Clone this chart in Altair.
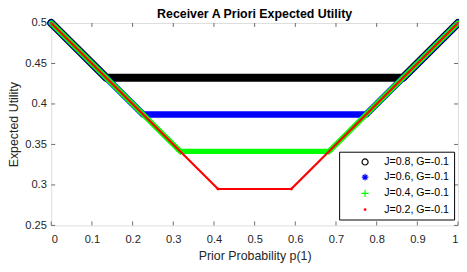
import altair as alt
import pandas as pd

# ---- data ----
series_names = ["J=0.8, G=-0.1", "J=0.6, G=-0.1", "J=0.4, G=-0.1", "J=0.2, G=-0.1"]

x_j08 = [0.0, 0.135, 0.865, 1.0]
y_j08 = [0.5, 0.4325, 0.4325, 0.5]
x_j06 = [0.0, 0.226, 0.774, 1.0]
y_j06 = [0.5, 0.387, 0.387, 0.5]
x_j04 = [0.0, 0.317, 0.683, 1.0]
y_j04 = [0.5, 0.3415, 0.3415, 0.5]
x_j02 = [0.0, 0.41, 0.59, 1.0]
y_j02 = [0.5, 0.295, 0.295, 0.5]

x_ticks = [0, 0.1, 0.2, 0.3, 0.4, 0.5, 0.6, 0.7, 0.8, 0.9, 1]
y_ticks = [0.25, 0.3, 0.35, 0.4, 0.45, 0.5]

# ---- styles ----
colors = ["#000000", "#0000ff", "#00ff00", "#ff0000"]
line_widths = [8.2, 6.8, 5.4, 2.2]
asterisk = "M0,-1L0,1M-1,0L1,0M-0.7,-0.7L0.7,0.7M-0.7,0.7L0.7,-0.7"
plus = "M0,-1L0,1M-1,0L1,0"
shapes = ["circle", asterisk, plus, "circle"]
sizes = [38, 45, 55, 3]

FONT = "Liberation Sans"
W, H = 414, 206
AXIS_COL = "#6b6b6b"
TXT_COL = "#262626"

rows = []
for name, xs_, ys_ in zip(series_names,
                          [x_j08, x_j06, x_j04, x_j02],
                          [y_j08, y_j06, y_j04, y_j02]):
    for a, b in zip(xs_, ys_):
        rows.append({"p": a, "u": b, "series": name})
df = pd.DataFrame(rows)

xscale = alt.Scale(domain=[0, 1], nice=False, zero=False)
yscale = alt.Scale(domain=[0.25, 0.5], nice=False, zero=False)

xaxis = alt.Axis(values=x_ticks, format="~g", title="Prior Probability p(1)",
                 ticks=False, tickSize=0, domain=False, grid=False,
                 labelPadding=8, labelFontSize=11.3, labelColor=TXT_COL, labelFont=FONT,
                 titleFontSize=12.6, titleFontWeight="normal", titleColor=TXT_COL, titleFont=FONT,
                 titleBaseline="alphabetic", titleY=35, titleX=W / 2)
yaxis = alt.Axis(values=y_ticks, format=".2~f", title="Expected Utility",
                 ticks=False, tickSize=0, domain=False, grid=False,
                 labelPadding=5, labelFontSize=11.3, labelColor=TXT_COL, labelFont=FONT,
                 titleFontSize=12.6, titleFontWeight="normal", titleColor=TXT_COL, titleFont=FONT,
                 titleBaseline="alphabetic", titleAngle=-90, titleX=-34.5, titleY=H / 2)

X = alt.X("p:Q", scale=xscale, axis=xaxis)
Y = alt.Y("u:Q", scale=yscale, axis=yaxis)

legend = alt.Legend(title=None, orient="none", legendX=293, legendY=131,
                    fillColor="white", strokeColor="black", padding=5,
                    cornerRadius=0, rowPadding=3.5, symbolOffset=16, labelOffset=14,
                    labelFontSize=10.8, labelFont=FONT, labelColor="black",
                    symbolStrokeWidth=1.2)

points = alt.Chart(df).mark_point(filled=False, strokeWidth=1.2, opacity=1).encode(
    x=X, y=Y,
    color=alt.Color("series:N", sort=series_names,
                    scale=alt.Scale(domain=series_names, range=colors), legend=legend),
    shape=alt.Shape("series:N", sort=series_names,
                    scale=alt.Scale(domain=series_names, range=shapes), legend=legend),
    size=alt.Size("series:N", sort=series_names,
                  scale=alt.Scale(type="ordinal", domain=series_names, range=sizes), legend=legend),
)

lines = []
for name, col, sw in zip(series_names, colors, line_widths):
    lines.append(
        alt.Chart(df).transform_filter(alt.datum.series == name)
        .mark_line(color=col, strokeWidth=sw, strokeCap="round", strokeJoin="round", clip=False)
        .encode(x=X, y=Y)
    )

tx = pd.DataFrame({"p": x_ticks})
ty = pd.DataFrame({"u": y_ticks})
tick_bottom = alt.Chart(tx).mark_rule(color=AXIS_COL, strokeWidth=1).encode(
    x=X, y=alt.value(H), y2=alt.value(H - 4))
tick_top = alt.Chart(tx).mark_rule(color=AXIS_COL, strokeWidth=1).encode(
    x=X, y=alt.value(0), y2=alt.value(4))
tick_left = alt.Chart(ty).mark_rule(color=AXIS_COL, strokeWidth=1).encode(
    y=Y, x=alt.value(0), x2=alt.value(4))
tick_right = alt.Chart(ty).mark_rule(color=AXIS_COL, strokeWidth=1).encode(
    y=Y, x=alt.value(W), x2=alt.value(W - 4))

chart = alt.layer(points, *lines, tick_bottom, tick_top, tick_left, tick_right).properties(
    width=W, height=H,
    title=alt.TitleParams("Receiver A Priori Expected Utility", fontSize=12.6, fontWeight="bold",
                          font=FONT, color="black", anchor="middle", offset=2, dy=6),
    padding={"left": 44, "top": 13, "right": 1, "bottom": 37},
    autosize=alt.AutoSizeParams(type="none"),
).configure_view(stroke=AXIS_COL, strokeWidth=1).configure(background="white")

chart.save("out.html", embed_options={"renderer": "svg", "actions": False})
